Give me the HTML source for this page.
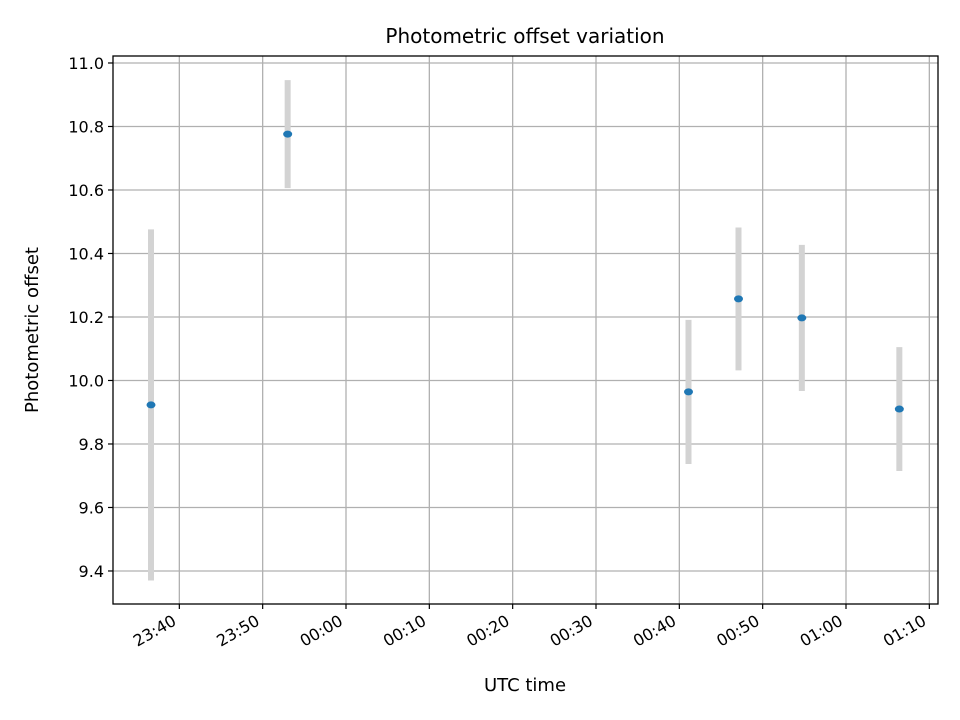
<!DOCTYPE html>
<html><head><meta charset="utf-8"><style>
body{margin:0;background:#fff;}
svg{display:block;font-family:"DejaVu Sans","Liberation Sans",sans-serif;}
</style></head><body>
<svg id="chart" width="960" height="720" viewBox="0 0 960 720">
<rect width="960" height="720" fill="#fff"/>
<text x="525" y="43" text-anchor="middle" font-size="20">Photometric offset variation</text>
<g id="grid"></g><g id="bars"></g><g id="pts"></g>
<rect x="113" y="56" width="825" height="548" fill="none" stroke="#000" stroke-width="1.3"/>
<g id="axes"></g>
<text x="525" y="691" text-anchor="middle" font-size="18">UTC time</text>
<text transform="translate(38,330) rotate(-90)" text-anchor="middle" font-size="18">Photometric offset</text>
</svg>
<script>
const times=[-23.4,-7.0,41.1,47.1,54.7,66.4];
const offsets=[9.923,10.776,9.964,10.257,10.197,9.910];
const errors=[0.553,0.170,0.227,0.225,0.230,0.195];
const xTicks=[-20,-10,0,10,20,30,40,50,60,70];
const xTickLabels=["23:40","23:50","00:00","00:10","00:20","00:30","00:40","00:50","01:00","01:10"];
const yTicks=[9.4,9.6,9.8,10.0,10.2,10.4,10.6,10.8,11.0];
const yTickLabels=["9.4","9.6","9.8","10.0","10.2","10.4","10.6","10.8","11.0"];
const X0=113,X1=938,Y0=604,Y1=56,xmin=-27.96,xmax=71.04,ymin=9.296,ymax=11.022;
const sx=v=>X0+(v-xmin)/(xmax-xmin)*(X1-X0);
const sy=v=>Y0-(v-ymin)/(ymax-ymin)*(Y0-Y1);
const NS="http://www.w3.org/2000/svg";
function mk(tag,attrs,parent){const e=document.createElementNS(NS,tag);for(const k in attrs)e.setAttribute(k,attrs[k]);document.getElementById(parent).appendChild(e);return e;}
xTicks.forEach((t,i)=>{const x=sx(t);
 const g=mk('line',{x1:x,x2:x,y1:Y1,y2:Y0,stroke:'#b0b0b0','stroke-width':1.3},'grid');
 
 
 const tk=mk('line',{x1:x,x2:x,y1:Y0,y2:Y0+5,stroke:'#000','stroke-width':1.2},'axes');
 
 
 const ax=x-2, ay=Y0+20;
 const lb=mk('text',{x:ax,y:ay,'text-anchor':'end','font-size':16,transform:`rotate(-30 ${ax} ${ay})`},'axes');
 lb.textContent=xTickLabels[i];
 
 
});
yTicks.forEach((t,i)=>{const y=sy(t);
 const g=mk('line',{x1:X0,x2:X1,y1:y,y2:y,stroke:'#b0b0b0','stroke-width':1.3},'grid');
 
 
 const tk=mk('line',{x1:X0-5,x2:X0,y1:y,y2:y,stroke:'#000','stroke-width':1.2},'axes');
 
 
 const lb=mk('text',{x:X0-9,y:y+6,'text-anchor':'end','font-size':16},'axes');
 lb.textContent=yTickLabels[i];
 
 
});
times.forEach((t,i)=>{const x=sx(t);
 const b=mk('line',{x1:x,x2:x,y1:sy(offsets[i]+errors[i]),y2:sy(offsets[i]-errors[i]),stroke:'#d3d3d3','stroke-width':6},'bars');
 
 
 const p=mk('ellipse',{cx:x,cy:sy(offsets[i]),rx:4.5,ry:3.5,fill:'#1f77b4'},'pts');
 
 
});
</script>
</body></html>
